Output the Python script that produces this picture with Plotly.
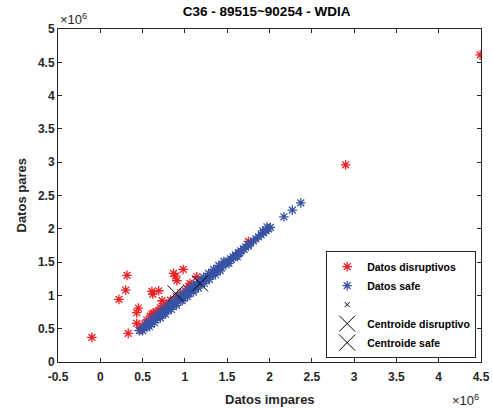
import plotly.graph_objects as go

# ---------------- data (units of 1e6) ----------------
safe_x = [0.46, 0.49, 0.52, 0.55, 0.58, 0.61, 0.64, 0.67, 0.70, 0.73, 0.76, 0.79, 0.82, 0.85, 0.88,
          0.91, 0.94, 0.97, 1.00, 1.03, 1.06, 1.09, 1.12, 1.15, 1.18, 1.21, 1.24, 1.27, 1.30, 1.33,
          1.36, 1.39, 1.42, 1.45, 1.48, 1.51, 1.54, 1.57, 1.60, 1.63, 1.66, 1.69, 1.72, 1.75, 1.78,
          1.81, 1.84, 1.87, 1.90, 1.93, 1.96, 1.99, 2.01,
          0.50, 0.55, 0.60, 0.65, 0.70, 0.75, 0.80, 0.85, 0.90, 0.95, 1.00, 1.05, 1.10, 1.15, 1.20,
          1.25, 1.30, 1.35, 1.40, 1.45, 1.50, 1.55, 1.60, 1.65, 1.70, 1.75,
          0.55, 0.62, 0.68, 0.74, 0.80, 0.86, 0.92, 0.98, 1.04, 1.10, 1.16, 1.22, 1.28, 1.34, 1.40, 1.46,
          0.58, 0.64, 0.71, 0.77, 0.84, 0.90, 0.97, 1.03, 1.10, 1.16, 1.23, 1.29, 1.36, 1.42, 1.52, 1.62,
          1.92, 1.97, 2.17, 2.27, 2.37]
safe_y = [0.47, 0.49, 0.52, 0.55, 0.58, 0.61, 0.64, 0.67, 0.70, 0.73, 0.77, 0.80, 0.83, 0.86, 0.89,
          0.92, 0.95, 0.98, 1.01, 1.04, 1.07, 1.10, 1.13, 1.16, 1.19, 1.22, 1.25, 1.28, 1.31, 1.34,
          1.37, 1.40, 1.43, 1.46, 1.49, 1.52, 1.55, 1.58, 1.61, 1.64, 1.67, 1.70, 1.73, 1.76, 1.79,
          1.82, 1.85, 1.88, 1.91, 1.94, 1.97, 2.00, 2.02,
          0.47, 0.52, 0.57, 0.63, 0.68, 0.73, 0.78, 0.83, 0.88, 0.93, 0.98, 1.03, 1.08, 1.13, 1.18,
          1.24, 1.29, 1.34, 1.39, 1.44, 1.49, 1.54, 1.59, 1.64, 1.69, 1.74,
          0.59, 0.66, 0.72, 0.79, 0.85, 0.91, 0.97, 1.03, 1.09, 1.15, 1.21, 1.27, 1.33, 1.39, 1.45, 1.51,
          0.53, 0.59, 0.66, 0.72, 0.79, 0.85, 0.92, 0.98, 1.05, 1.11, 1.18, 1.24, 1.31, 1.37, 1.48, 1.58,
          1.97, 2.03, 2.18, 2.28, 2.39]

disr_x = [-0.10, 0.33, 0.22, 0.30, 0.315, 0.43, 0.43, 0.45, 0.47, 0.61, 0.62, 0.69, 0.73, 0.61,
          0.71, 0.866, 0.89, 0.905, 0.98, 1.06, 1.14, 1.75, 2.90, 4.49,
          0.47, 0.55, 0.59, 0.63, 0.71, 0.78, 0.83, 0.90, 0.95, 1.02, 1.08, 0.52, 0.66, 0.75]
disr_y = [0.37, 0.43, 0.94, 1.08, 1.30, 0.58, 0.74, 0.81, 0.48, 1.06, 1.02, 1.07, 0.92, 0.72,
          0.81, 1.33, 1.29, 1.22, 1.39, 1.18, 1.28, 1.81, 2.96, 4.61,
          0.52, 0.63, 0.69, 0.73, 0.81, 0.87, 0.93, 0.98, 1.04, 1.11, 1.16, 0.57, 0.76, 0.84]

cent_disr = (0.89, 1.03)
cent_safe = (1.18, 1.18)

x_ticks = [-0.5, 0, 0.5, 1, 1.5, 2, 2.5, 3, 3.5, 4, 4.5]
x_tick_labels = ["-0.5", "0", "0.5", "1", "1.5", "2", "2.5", "3", "3.5", "4", "4.5"]
y_ticks = [0, 0.5, 1, 1.5, 2, 2.5, 3, 3.5, 4, 4.5, 5]
y_tick_labels = ["0", "0.5", "1", "1.5", "2", "2.5", "3", "3.5", "4", "4.5", "5"]

RED = "#ee2024"
BLUE = "#3953a4"
TXT = "#262626"
FONT = "Liberation Sans"

fig = go.Figure()
fig.add_trace(go.Scatter(x=disr_x, y=disr_y, mode="markers", name="Datos disruptivos",
                         marker=dict(symbol="asterisk-open", size=8, color=RED,
                                     line=dict(color=RED, width=1.3))))
fig.add_trace(go.Scatter(x=safe_x, y=safe_y, mode="markers", name="Datos safe",
                         marker=dict(symbol="asterisk-open", size=8, color=BLUE,
                                     line=dict(color=BLUE, width=1.3))))
fig.add_trace(go.Scatter(x=[None], y=[None], mode="markers", name=" ",
                         marker=dict(symbol="x-thin-open", size=5, color="black",
                                     line=dict(color="black", width=1))))
fig.add_trace(go.Scatter(x=[cent_disr[0]], y=[cent_disr[1]], mode="markers", name="Centroide disruptivo",
                         marker=dict(symbol="x-thin-open", size=16, color="black",
                                     line=dict(color="#222222", width=1))))
fig.add_trace(go.Scatter(x=[cent_safe[0]], y=[cent_safe[1]], mode="markers", name="Centroide safe",
                         marker=dict(symbol="x-thin-open", size=16, color="black",
                                     line=dict(color="#222222", width=1))))

axis_common = dict(showline=True, linecolor=TXT, linewidth=1, mirror="ticks",
                   ticks="inside", ticklen=4, tickcolor=TXT, tickwidth=1,
                   showgrid=False, zeroline=False, automargin=False,
                   tickfont=dict(family=FONT, size=12, color=TXT, weight="bold"))

fig.update_layout(
    width=493, height=408,
    margin=dict(l=58, r=12, t=29, b=46),
    paper_bgcolor="white", plot_bgcolor="white",
    font=dict(family=FONT, size=12, color=TXT, weight="bold"),
    title=dict(text="C36 - 89515~90254 - WDIA", xref="paper", x=0.493, xanchor="center",
               yref="container", y=0.985, yanchor="top",
               font=dict(family=FONT, size=13.5, color="black", weight="bold")),
    xaxis=dict(range=[-0.5, 4.5], tickvals=x_ticks, ticktext=x_tick_labels,
               ticklabelstandoff=4, **axis_common),
    yaxis=dict(range=[0, 5], tickvals=y_ticks, ticktext=y_tick_labels, **axis_common),
    legend=dict(x=0.634, y=0.333, xanchor="left", yanchor="top",
                bgcolor="white", bordercolor=TXT, borderwidth=1,
                font=dict(family=FONT, size=10.5, color="black", weight="bold"),
                itemwidth=30, tracegroupgap=0),
    showlegend=True,
)

# axis titles
fig.add_annotation(text="Datos impares", xref="paper", yref="paper", x=0.5, y=0,
                   xanchor="center", yanchor="middle", showarrow=False, yshift=-37,
                   font=dict(family=FONT, size=13, color=TXT, weight="bold"))
fig.add_annotation(text="Datos pares", xref="paper", yref="paper", x=0, y=0.5,
                   xanchor="center", yanchor="middle", showarrow=False, xshift=-37, textangle=-90,
                   font=dict(family=FONT, size=13, color=TXT, weight="bold"))
# exponent labels
fig.add_annotation(text="×10<sup>6</sup>", xref="paper", yref="paper", x=0, y=1,
                   xanchor="left", yanchor="bottom", showarrow=False, yshift=0,
                   font=dict(family=FONT, size=13, color=TXT, weight="normal"))
fig.add_annotation(text="×10<sup>6</sup>", xref="paper", yref="paper", x=1, y=0,
                   xanchor="right", yanchor="top", showarrow=False, yshift=-28,
                   font=dict(family=FONT, size=13, color=TXT, weight="normal"))

fig.write_html("out.html")
